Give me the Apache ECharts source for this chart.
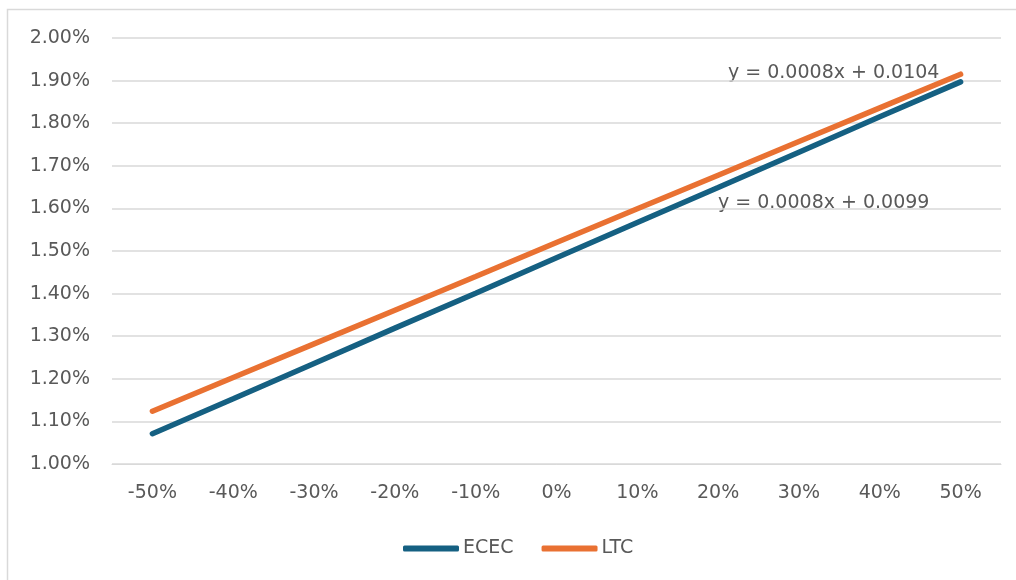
<!DOCTYPE html>
<html>
<head>
<meta charset="utf-8">
<script src="https://cdn.jsdelivr.net/npm/echarts@6/dist/echarts.min.js"></script>
<style>
  html, body { margin: 0; padding: 0; background: #fff; }
  #chart { width: 1016px; height: 580px; }
</style>
</head>
<body>
<div id="chart"></div>
<script>
// Sensitivity scenarios (change applied) on the x axis
const categories = ['-50%', '-40%', '-30%', '-20%', '-10%', '0%', '10%', '20%', '30%', '40%', '50%'];

// Resulting rates, in percent
const ececValues = [1.071, 1.153, 1.236, 1.319, 1.401, 1.484, 1.567, 1.649, 1.732, 1.815, 1.897];
const ltcValues  = [1.124, 1.203, 1.282, 1.361, 1.440, 1.520, 1.599, 1.678, 1.757, 1.836, 1.915];

// Linear trendline equations shown beside the lines
const ltcTrendText  = 'y = 0.0008x + 0.0104';
const ececTrendText = 'y = 0.0008x + 0.0099';

const textColor = '#595959';
const gridColor = '#d9d9d9';
const fontFamily = '"DejaVu Sans", Verdana, sans-serif';

const chart = echarts.init(document.getElementById('chart'), null, { renderer: 'canvas' });

chart.setOption({
  backgroundColor: '#ffffff',
  animation: false,
  textStyle: { fontFamily: fontFamily },
  grid: { left: 112, right: 15, top: 38, bottom: 116, containLabel: false },
  xAxis: {
    type: 'category',
    data: categories,
    boundaryGap: true,
    axisLine: { show: true, lineStyle: { color: gridColor, width: 1 } },
    axisTick: { show: false },
    axisLabel: { color: textColor, fontSize: 19, margin: 20, fontFamily: fontFamily }
  },
  yAxis: {
    type: 'value',
    min: 1.0,
    max: 2.0,
    interval: 0.1,
    axisLine: { show: false },
    axisTick: { show: false },
    splitLine: { lineStyle: { color: gridColor, width: 1.5 } },
    axisLabel: {
      color: textColor,
      fontSize: 19,
      margin: 22,
      fontFamily: fontFamily,
      formatter: v => v.toFixed(2) + '%'
    }
  },
  legend: {
    top: 539,
    left: 403,
    padding: 0,
    icon: 'roundRect',
    itemWidth: 56,
    itemHeight: 6,
    itemGap: 28,
    textStyle: { color: textColor, fontSize: 19, fontFamily: fontFamily, padding: [0, 0, 0, -1] },
    data: ['ECEC', 'LTC']
  },
  series: [
    {
      name: 'ECEC',
      type: 'line',
      data: ececValues,
      showSymbol: false,
      symbol: 'none',
      lineStyle: { color: '#156082', width: 5.5, cap: 'round' },
      itemStyle: { color: '#156082' }
    },
    {
      name: 'LTC',
      type: 'line',
      data: ltcValues,
      showSymbol: false,
      symbol: 'none',
      lineStyle: { color: '#E97132', width: 5.5, cap: 'round' },
      itemStyle: { color: '#E97132' }
    }
  ],
  graphic: [
    {
      type: 'rect',
      silent: true,
      shape: { x: 7.5, y: 9.5, width: 1200, height: 800 },
      style: { fill: 'none', stroke: gridColor, lineWidth: 1.5 },
      z: -10
    },
    {
      type: 'text',
      left: 728,
      top: 64,
      style: { text: ltcTrendText, fill: textColor, font: '19px ' + fontFamily }
    },
    {
      type: 'text',
      left: 718,
      top: 194,
      style: { text: ececTrendText, fill: textColor, font: '19px ' + fontFamily }
    }
  ]
});
</script>
</body>
</html>
